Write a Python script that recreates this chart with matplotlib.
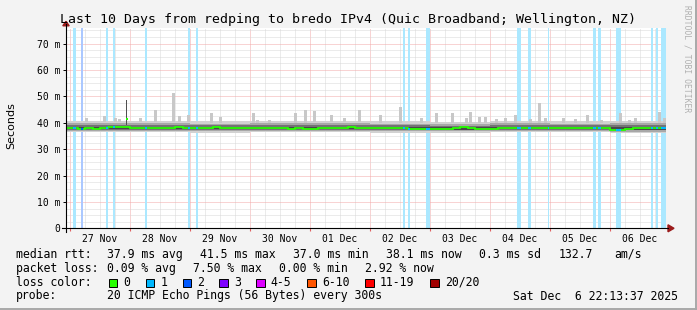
import numpy as np
import matplotlib.pyplot as plt
from matplotlib.ticker import MultipleLocator, NullFormatter, FuncFormatter
from matplotlib.patches import Rectangle, Polygon
from matplotlib.lines import Line2D
from matplotlib.colors import to_rgb

W, H = 697, 310
MONO = "DejaVu Sans Mono"

# time axis in days since 27 Nov 00:00
T_START, T_END = -0.074, 9.926
DAY_LABELS = ["27 Nov", "28 Nov", "29 Nov", "30 Nov", "01 Dec",
              "02 Dec", "03 Dec", "04 Dec", "05 Dec", "06 Dec"]

# median rtt (ms), 3 hour steps starting 26 Nov 21:00
MEDIAN_T0, MEDIAN_STEP = -0.125, 0.125
MEDIAN_MS = [38.1,
             38.1, 37.8, 38.0, 37.8, 38.0, 38.2, 38.3, 38.3,
             38.1, 37.9, 38.0, 38.0, 38.1, 38.1, 38.3, 38.1,
             37.9, 37.9, 38.0, 38.2, 37.9, 38.1, 38.1, 38.0,
             38.0, 38.0, 38.0, 37.9, 38.0, 37.7, 37.9, 37.8,
             37.8, 37.9, 38.0, 38.0, 38.0, 38.2, 37.9, 38.0,
             37.9, 38.0, 38.0, 37.9, 37.9, 37.8, 37.8, 37.8,
             37.6, 37.6, 37.8, 38.0, 38.2, 38.1, 37.8, 37.8,
             37.8, 37.9, 38.0, 38.1, 38.1, 38.1, 38.0, 38.0,
             38.0, 38.0, 37.9, 38.0, 38.0, 38.0, 37.9, 37.9,
             37.4, 37.1, 37.8, 37.9, 38.0, 38.0, 38.0, 38.1]
MEDIAN_PEAK_DAY, MEDIAN_PEAK_MS = 0.94, 41.4

# smoke (ping spread, ms), one value per day starting 26 Nov
SMOKE_MIN = [36.3, 36.3, 36.3, 36.2, 36.3, 36.3, 36.2, 36.2, 36.3, 36.3, 36.1]
SMOKE_P10 = [36.8, 36.8, 36.8, 36.7, 36.8, 36.8, 36.7, 36.7, 36.8, 36.8, 36.6]
SMOKE_P30 = [37.3, 37.3, 37.3, 37.2, 37.2, 37.3, 37.2, 37.1, 37.3, 37.2, 37.1]
SMOKE_P40 = [37.6, 37.6, 37.6, 37.5, 37.5, 37.6, 37.5, 37.4, 37.6, 37.5, 37.4]
SMOKE_P60 = [38.4, 38.4, 38.4, 38.3, 38.3, 38.4, 38.3, 38.3, 38.4, 38.3, 38.3]
SMOKE_P70 = [39.1, 39.1, 39.1, 39.0, 39.0, 39.1, 39.0, 38.9, 39.1, 39.0, 39.0]
SMOKE_P90 = [39.8, 39.9, 39.9, 39.7, 39.8, 39.8, 39.7, 39.6, 39.8, 39.7, 39.8]
SMOKE_MAX = [40.6, 40.7, 40.8, 40.5, 40.6, 40.7, 40.6, 40.4, 40.6, 40.6, 40.6]

# short bursts of slow pings (day, highest ping in ms)
SPIKE_DAY = [0.27, 0.58, 0.75, 0.83, 1.18, 1.42, 1.73, 1.83, 1.97, 2.35,
             2.50, 3.05, 3.13, 3.33, 3.75, 3.93, 4.07, 4.35, 4.58, 4.83,
             5.18, 5.50, 5.85, 6.10, 6.38, 6.60, 6.68, 6.83, 6.93, 7.10,
             7.25, 7.42, 7.68, 7.82, 7.92, 8.22, 8.42, 8.63, 8.85, 9.17,
             9.33, 9.42, 9.83, 9.90]
SPIKE_MS = [41.8, 42.6, 41.8, 41.4, 41.9, 44.8, 51.2, 42.6, 43.0, 43.8,
            42.3, 43.8, 40.9, 40.9, 43.6, 44.8, 44.3, 43.0, 41.9, 44.8,
            43.0, 46.0, 41.6, 43.5, 43.5, 41.9, 44.2, 42.3, 42.3, 41.4,
            41.6, 43.0, 41.4, 47.5, 41.6, 41.6, 41.4, 43.0, 40.9, 43.6,
            41.2, 41.9, 44.0, 41.9]
DARK_SPIKE_DAY, DARK_SPIKE_MS = 0.94, 48.6

# packet loss periods (day start, day end, lost pings of 20)
LOSS_START = [0.055, 0.183, 0.600, 0.722, 1.255, 1.972, 2.100, 5.545, 5.628,
              5.933, 7.445, 7.633, 7.962, 8.722, 8.795, 9.095, 9.683, 9.762, 9.845]
LOSS_END = [0.100, 0.212, 0.633, 0.755, 1.288, 2.005, 2.133, 5.588, 5.672,
            6.005, 7.512, 7.678, 7.988, 8.767, 8.845, 9.178, 9.722, 9.795, 9.933]
LOSS_N = [1, 2, 1, 1, 1, 1, 1, 1, 1, 1, 1, 1, 1, 1, 1, 1, 1, 1, 1]

LOSS_LABELS = ["0", "1", "2", "3", "4-5", "6-10", "11-19", "20/20"]
LOSS_COLORS = ["#26ff00", "#00b8ff", "#0059ff", "#7e00ff", "#dd00ff",
               "#ff5500", "#ff0000", "#a10000"]


def fx(x):
    return x / W


def fy(y):
    return 1 - y / H


def ms(a):
    return np.asarray(a) / 1000.0


def light(c, a=0.33):
    r = np.array(to_rgb(c))
    return tuple(a * r + (1 - a) * np.ones(3))


fig = plt.figure(figsize=(W / 100, H / 100), dpi=100, facecolor="#f3f3f3")
ax = fig.add_axes([fx(65.6), fy(228.3), 600 / W, (228.3 - 27.7) / H])
ax.set_facecolor("white")
ax.set_xlim(T_START, T_END)
ax.set_ylim(0, 0.076)

# grid
ax.xaxis.set_major_locator(MultipleLocator(1))
ax.xaxis.set_minor_locator(MultipleLocator(0.25))
ax.yaxis.set_major_locator(MultipleLocator(0.01))
ax.yaxis.set_minor_locator(MultipleLocator(0.0025))
ax.grid(which="minor", color="#d8d8d8", ls=(0, (1, 1)), lw=0.72, zorder=0)
ax.grid(which="major", color="#f3a8a8", ls=(0, (1, 1)), lw=0.72, zorder=0)
ax.set_axisbelow(True)

# loss background
for s, e, n in zip(LOSS_START, LOSS_END, LOSS_N):
    ax.axvspan(s, e, color=light(LOSS_COLORS[n]), lw=0, zorder=1)

# smoke
day_edges = np.arange(-1, 11)
ax.stairs(ms(SMOKE_MAX), day_edges, baseline=ms(SMOKE_MIN), fill=True, color="#d2d2d2", zorder=2)
ax.stairs(ms(SMOKE_P90), day_edges, baseline=ms(SMOKE_P10), fill=True, color="#a8a8a8", zorder=2)
ax.stairs(ms(SMOKE_P70), day_edges, baseline=ms(SMOKE_P30), fill=True, color="#747474", zorder=2)
ax.stairs(ms(SMOKE_P60), day_edges, baseline=ms(SMOKE_P40), fill=True, color="#484848", zorder=2)

idx = np.floor(np.array(SPIKE_DAY)).astype(int) + 1
base = ms(SMOKE_MAX)[idx] - 0.0006
ax.bar(SPIKE_DAY, ms(SPIKE_MS) - base, bottom=base, width=0.05, color="#c8c8c8", lw=0, zorder=2)
ax.bar(DARK_SPIKE_DAY, ms(DARK_SPIKE_MS) - 0.039, bottom=0.039, width=0.025, color="#505050", lw=0, zorder=3)

# median
med_edges = MEDIAN_T0 + MEDIAN_STEP * np.arange(len(MEDIAN_MS) + 1)
ax.stairs(ms(MEDIAN_MS), med_edges, baseline=None, color="#26ff00", lw=1.3, zorder=4)
ax.plot([MEDIAN_PEAK_DAY - 0.012, MEDIAN_PEAK_DAY + 0.02], ms([MEDIAN_PEAK_MS] * 2),
        color="#26ff00", lw=1.5, solid_capstyle="butt", zorder=4)
for s, e, n in zip(LOSS_START, LOSS_END, LOSS_N):
    v = MEDIAN_MS[int(((s + e) / 2 - MEDIAN_T0) / MEDIAN_STEP)]
    ax.plot([s, e], ms([v, v]), color=LOSS_COLORS[n], lw=1.5, solid_capstyle="butt", zorder=5)

# axes decoration
for sp in ax.spines.values():
    sp.set_visible(False)
ax.xaxis.set_major_formatter(NullFormatter())
ax.tick_params(axis="x", which="major", length=2, color="#e06060", direction="out")
ax.tick_params(axis="x", which="minor", length=0)
ax.tick_params(axis="y", which="major", length=2.2, width=0.7, pad=1.5, labelsize=7)
ax.tick_params(axis="y", which="minor", length=0)
ax.yaxis.set_major_formatter(FuncFormatter(lambda v, p: "0" if v < 1e-9 else f"{v * 1000:.0f} m"))
for lab in ax.get_yticklabels():
    lab.set_family(MONO)

for i, lab in enumerate(DAY_LABELS):
    ax.text(i + 0.5, -0.051, lab, transform=ax.get_xaxis_transform(), ha="center", va="center",
            fontsize=7, family=MONO)

fig.add_artist(Line2D([fx(62), fx(668)], [fy(228.3)] * 2, color="black", lw=0.8))
fig.add_artist(Line2D([fx(66)] * 2, [fy(232), fy(24)], color="black", lw=0.8))
fig.add_artist(Polygon([(fx(668), fy(224.8)), (fx(674), fy(228.3)), (fx(668), fy(231.8))],
                       closed=True, color="#9b1b1b", transform=fig.transFigure))
fig.add_artist(Polygon([(fx(62.8), fy(25.8)), (fx(66), fy(21.3)), (fx(69.2), fy(25.8))],
                       closed=True, color="#9b1b1b", transform=fig.transFigure))

# texts
fig.text(fx(348.5), fy(19), "Last 10 Days from redping to bredo IPv4 (Quic Broadband; Wellington, NZ)",
         ha="center", va="center", fontsize=9.5, family=MONO)
fig.text(fx(11), fy(126), "Seconds", rotation=90, ha="center", va="center", fontsize=8,
         family="DejaVu Sans")
fig.text(fx(687.5), fy(59), "RRDTOOL / TOBI OETIKER", rotation=270, ha="center", va="center",
         fontsize=5.8, color="#b0b0b0", family=MONO)

LEG = 8.3
rows = [
    (254.3, [(16, "median rtt:"), (107.3, "37.9 ms avg"), (200.3, "41.5 ms max"),
             (293.3, "37.0 ms min"), (386, "38.1 ms now"), (479.3, "0.3 ms sd"),
             (558.3, "132.7"), (614.3, "am/s")]),
    (268.3, [(16, "packet loss:"), (107, "0.09 % avg"), (193, "7.50 % max"),
             (279, "0.00 % min"), (365, "2.92 % now")]),
    (282.3, [(16, "loss color:")]),
    (296, [(16, "probe:"), (107, "20 ICMP Echo Pings (56 Bytes) every 300s"),
           (513.3, "Sat Dec  6 22:13:37 2025")]),
]
for y, items in rows:
    for x, t in items:
        fig.text(fx(x), fy(y), t, ha="left", va="center", fontsize=LEG, family=MONO)

sq_x = [108.7, 145.7, 182.7, 219.3, 256, 307, 365.3, 430.3]
for x, lab, c in zip(sq_x, LOSS_LABELS, LOSS_COLORS):
    fig.add_artist(Rectangle((fx(x), fy(287.3)), 8.6 / W, 8.3 / H, transform=fig.transFigure,
                             facecolor=c, edgecolor="black", lw=0.7))
    fig.text(fx(x + 14.8), fy(282.3), lab, ha="left", va="center", fontsize=LEG, family=MONO)

# frame
fig.add_artist(Line2D([fx(695.8)] * 2, [0, 1], color="#a8a8a8", lw=1.4))
fig.add_artist(Line2D([0, 1], [fy(308.8)] * 2, color="#a8a8a8", lw=1.4))

fig.savefig("out.png", dpi=100, facecolor=fig.get_facecolor())
